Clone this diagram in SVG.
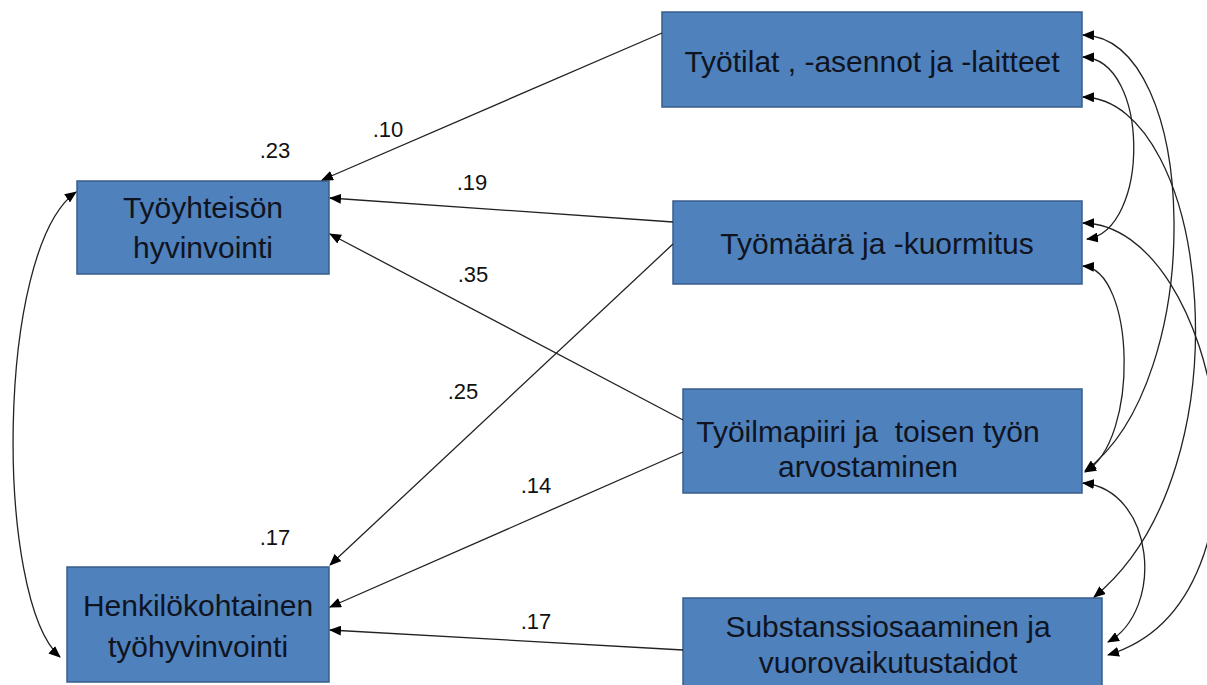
<svg xmlns="http://www.w3.org/2000/svg" width="1207" height="685" viewBox="0 0 1207 685">
<defs>
<marker id="ah" viewBox="0 0 12 10" refX="11" refY="5" markerWidth="12" markerHeight="10" markerUnits="userSpaceOnUse" orient="auto-start-reverse">
<path d="M0,0 L12,5 L0,10 z" fill="#000"/>
</marker>
<style>
.box{fill:#4F81BD;stroke:#385D8A;stroke-width:1.5}
.bt{font-family:"Liberation Sans",Arial,sans-serif;font-size:30px;fill:#0f1420;text-anchor:middle}
.lb{font-family:"Liberation Sans",Arial,sans-serif;font-size:22px;fill:#111;text-anchor:middle}
.c{fill:none;stroke:#222;stroke-width:1.3}
.one{marker-end:url(#ah)}
.two{marker-start:url(#ah);marker-end:url(#ah)}
</style>
</defs>
<rect width="1207" height="685" fill="#fff"/>
<g id="n-tyoyhteison">
<rect class="box" x="77" y="181" width="252" height="93"/>
<text class="bt" x="203" y="218">Työyhteisön</text>
<text class="bt" x="203" y="258">hyvinvointi</text>
</g>
<g id="n-henkilokohtainen">
<rect class="box" x="67" y="567" width="262" height="115"/>
<text class="bt" x="198" y="616">Henkilökohtainen</text>
<text class="bt" x="198" y="657">työhyvinvointi</text>
</g>
<g id="n-tyotilat">
<rect class="box" x="662" y="12" width="420" height="95"/>
<text class="bt" x="872" y="72">Työtilat , -asennot ja -laitteet</text>
</g>
<g id="n-tyomaara">
<rect class="box" x="673" y="201" width="409" height="83"/>
<text class="bt" x="877" y="254">Työmäärä ja -kuormitus</text>
</g>
<g id="n-tyoilmapiiri">
<rect class="box" x="683" y="389" width="399" height="104"/>
<text class="bt" x="868" y="442" xml:space="preserve">Työilmapiiri ja  toisen työn</text>
<text class="bt" x="868" y="477">arvostaminen</text>
</g>
<g id="n-substanssi">
<rect class="box" x="683" y="598" width="419" height="95"/>
<text class="bt" x="888" y="637">Substanssiosaaminen ja</text>
<text class="bt" x="888" y="673">vuorovaikutustaidot</text>
</g>
<g id="connectors">
<line class="c one" x1="662" y1="33" x2="322" y2="180"/>
<line class="c one" x1="673" y1="222" x2="330" y2="198"/>
<line class="c one" x1="683" y1="420" x2="330" y2="234"/>
<line class="c one" x1="673" y1="244" x2="330" y2="565"/>
<line class="c one" x1="683" y1="452" x2="330" y2="607"/>
<line class="c one" x1="683" y1="650" x2="330" y2="630"/>
<path class="c two" d="M76,192 C-5,250 -5,600 60,657"/>
<path class="c two" d="M1083,57 C1150,60 1150,230 1087,239"/>
<path class="c two" d="M1083,35 C1200,38 1208,380 1085,471"/>
<path class="c two" d="M1083,97 C1210,100 1250,470 1094,597"/>
<path class="c two" d="M1083,266 C1135,270 1140,440 1085,472"/>
<path class="c two" d="M1083,223 C1220,225 1290,600 1108,655"/>
<path class="c two" d="M1083,483 C1155,490 1165,610 1108,642"/>
</g>
<g id="labels">
<text class="lb" x="388" y="137">.10</text>
<text class="lb" x="275" y="158">.23</text>
<text class="lb" x="472" y="190">.19</text>
<text class="lb" x="473" y="282">.35</text>
<text class="lb" x="463" y="399">.25</text>
<text class="lb" x="536" y="493">.14</text>
<text class="lb" x="275" y="545">.17</text>
<text class="lb" x="536" y="629">.17</text>
</g>
</svg>
